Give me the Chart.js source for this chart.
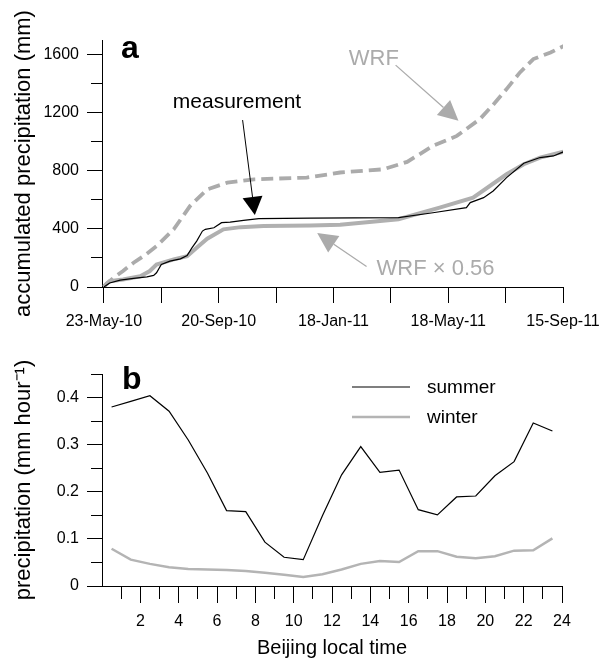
<!DOCTYPE html>
<html lang="en">
<head>
<meta charset="UTF-8" />
<title>Accumulated and diurnal precipitation</title>
<script src="https://cdn.jsdelivr.net/npm/chart.js"></script>
<style>
  body { margin: 0; background: #fff; }
  #wrap { position: relative; width: 612px; height: 660px; }
  canvas { position: absolute; left: 0; }
  #chartA { top: 0; }
  #chartB { top: 330px; }
</style>
</head>
<body>
<div id="wrap">
  <canvas id="chartA" width="612" height="330"></canvas>
  <canvas id="chartB" width="612" height="330"></canvas>
</div>

<script>
// ---- panel a: days since 23-May-10, accumulated mm ----
const measDays = [0, 6, 17, 31, 45, 52, 55, 60, 69, 80, 87, 92, 97, 103, 106, 115, 123, 132, 146, 162, 216, 308, 344, 379, 383, 397, 407, 421, 439, 456, 470, 481];
const measMm   = [0, 28, 47, 59, 70, 80, 98, 155, 178, 194, 217, 269, 316, 385, 397, 408, 443, 447, 459, 470, 474, 477, 511, 546, 581, 615, 661, 753, 852, 891, 902, 932];

const scaledDays = [0, 3, 6, 20, 38, 48, 55, 73, 87, 97, 108, 125, 143, 167, 216, 247, 308, 351, 386, 421, 439, 456, 481];
const scaledMm   = [0, 25, 40, 52, 74, 110, 155, 190, 212, 270, 332, 397, 412, 419, 423, 428, 466, 546, 615, 776, 845, 891, 932];

const wrfDays = [0, 10, 20, 31, 43, 55, 73, 90, 108, 129, 157, 212, 247, 292, 317, 344, 369, 393, 406, 421, 435, 449, 467, 481];
const wrfMm   = [5, 63, 110, 167, 220, 281, 397, 557, 672, 718, 741, 753, 788, 810, 861, 971, 1040, 1155, 1247, 1362, 1477, 1569, 1614, 1660];

const dayTicks = [0, 60, 120, 180, 240, 300, 360, 420, 480];
const dateLabels = { 0: '23-May-10', 120: '20-Sep-10', 240: '18-Jan-11', 360: '18-May-11', 480: '15-Sep-11' };
const mmTicks = [0, 200, 400, 600, 800, 1000, 1200, 1400, 1600];

// ---- panel b: Beijing local time (h), mm/hour ----
const hours  = [0.5, 1.5, 2.5, 3.5, 4.5, 5.5, 6.5, 7.5, 8.5, 9.5, 10.5, 11.5, 12.5, 13.5, 14.5, 15.5, 16.5, 17.5, 18.5, 19.5, 20.5, 21.5, 22.5, 23.5];
const summer = [0.380, 0.392, 0.404, 0.371, 0.310, 0.240, 0.160, 0.158, 0.093, 0.061, 0.056, 0.149, 0.236, 0.296, 0.241, 0.246, 0.162, 0.151, 0.189, 0.191, 0.234, 0.264, 0.346, 0.329];
const winter = [0.079, 0.056, 0.047, 0.040, 0.036, 0.035, 0.034, 0.032, 0.028, 0.024, 0.019, 0.025, 0.035, 0.047, 0.053, 0.051, 0.074, 0.074, 0.062, 0.059, 0.063, 0.075, 0.076, 0.101];

const hourTicks = [1, 2, 3, 4, 5, 6, 7, 8, 9, 10, 11, 12, 13, 14, 15, 16, 17, 18, 19, 20, 21, 22, 23, 24];
const rateTicks = [0, 0.05, 0.1, 0.15, 0.2, 0.25, 0.3, 0.35, 0.4, 0.45];
const rateLabels = ['0', '', '0.1', '', '0.2', '', '0.3', '', '0.4', ''];

const GREY = '#ababab';
const FONT = '"Liberation Sans", Arial, Helvetica, sans-serif';
Chart.defaults.font.family = FONT;
Chart.defaults.color = '#000';

function pts(xs, ys) { return xs.map((x, i) => ({ x: x, y: ys[i] })); }

function drawArrow(ctx, x0, y0, x1, y1, color, lw, headLen, headHalf) {
  const ang = Math.atan2(y1 - y0, x1 - x0);
  const bx = x1 - headLen * Math.cos(ang), by = y1 - headLen * Math.sin(ang);
  ctx.save();
  ctx.strokeStyle = color;
  ctx.fillStyle = color;
  ctx.lineWidth = lw;
  ctx.beginPath(); ctx.moveTo(x0, y0); ctx.lineTo(bx, by); ctx.stroke();
  ctx.beginPath();
  ctx.moveTo(x1, y1);
  ctx.lineTo(bx + headHalf * Math.sin(ang), by - headHalf * Math.cos(ang));
  ctx.lineTo(bx - headHalf * Math.sin(ang), by + headHalf * Math.cos(ang));
  ctx.closePath();
  ctx.fill();
  ctx.restore();
}

// text + arrows for panel a, placed in data units
const notesA = {
  id: 'notesA',
  afterDatasetsDraw(chart) {
    const { ctx, chartArea, scales: { x, y } } = chart;
    const px = d => x.getPixelForValue(d), py = v => y.getPixelForValue(v);
    ctx.save();
    ctx.textBaseline = 'alphabetic';
    ctx.textAlign = 'left';
    ctx.font = 'bold 32px ' + FONT;
    ctx.fillStyle = '#000';
    ctx.fillText('a', chartArea.left + 19, chartArea.top + 18);

    ctx.font = '21px ' + FONT;
    ctx.fillText('measurement', px(72), py(1231));
    drawArrow(ctx, px(145), py(1149), px(157.8), py(496), '#000', 1, 18, 10);

    ctx.fillStyle = GREY;
    ctx.font = '22px ' + FONT;
    ctx.fillText('WRF', px(256), py(1527));
    drawArrow(ctx, px(305), py(1527), px(370.7), py(1144), GREY, 1.3, 20, 10);

    ctx.fillText('WRF \u00d7 0.56', px(285), py(84));
    drawArrow(ctx, px(274.6), py(141.5), px(223), py(371), GREY, 1.3, 20, 10);
    ctx.restore();
  }
};

// panel label + legend for panel b
const notesB = {
  id: 'notesB',
  afterDatasetsDraw(chart) {
    const { ctx, chartArea } = chart;
    ctx.save();
    ctx.textAlign = 'left';
    ctx.textBaseline = 'alphabetic';
    ctx.font = 'bold 32px ' + FONT;
    ctx.fillStyle = '#000';
    ctx.fillText('b', chartArea.left + 20, chartArea.top + 15);

    ctx.font = '19px ' + FONT;
    ctx.textBaseline = 'middle';
    chart.data.datasets.forEach((ds, i) => {
      const yy = chartArea.top + 13 + i * 30;
      ctx.strokeStyle = ds.borderColor;
      ctx.lineWidth = ds.borderWidth;
      ctx.beginPath();
      ctx.moveTo(chartArea.left + 250, yy);
      ctx.lineTo(chartArea.left + 308, yy);
      ctx.stroke();
      ctx.fillStyle = '#000';
      ctx.fillText(ds.label, chartArea.left + 325, yy + 1);
    });
    ctx.restore();
  }
};

new Chart(document.getElementById('chartA'), {
  type: 'line',
  data: {
    datasets: [
      { label: 'measurement', data: pts(measDays, measMm), borderColor: '#000', borderWidth: 1.2 },
      { label: 'WRF x 0.56', data: pts(scaledDays, scaledMm), borderColor: '#b0b0b0', borderWidth: 4 },
      { label: 'WRF', data: pts(wrfDays, wrfMm), borderColor: GREY, borderWidth: 3.8, borderDash: [12, 6] }
    ]
  },
  options: {
    responsive: false,
    animation: false,
    devicePixelRatio: 1,
    elements: { point: { radius: 0 }, line: { tension: 0 } },
    layout: { padding: { top: 40, right: 49, left: 0, bottom: 0 } },
    plugins: { legend: { display: false }, tooltip: { enabled: false } },
    scales: {
      x: {
        type: 'linear', min: -2, max: 480,
        afterBuildTicks: s => { s.ticks = dayTicks.map(v => ({ value: v })); },
        afterFit: s => { s.height = 43; },
        ticks: { callback: v => dateLabels[v] || '', font: { size: 16 }, padding: 9, maxRotation: 0, autoSkip: false },
        grid: { drawOnChartArea: false, tickLength: 16, tickColor: '#000', tickWidth: 1 },
        border: { color: '#000', width: 1 }
      },
      y: {
        type: 'linear', min: 0, max: 1700,
        afterBuildTicks: s => { s.ticks = mmTicks.map(v => ({ value: v })); },
        afterFit: s => { s.width = 102; },
        ticks: { callback: v => (v % 400 === 0 ? String(v) : ''), font: { size: 16 }, padding: 8 },
        grid: {
          drawOnChartArea: false, tickLength: 15, tickColor: '#000', tickWidth: 1,
          tickBorderDash: c => (c.tick && c.tick.value % 400 !== 0 ? [0, 4, 11, 100] : [])
        },
        border: { color: '#000', width: 1 },
        title: { display: true, text: 'accumulated precipitation (mm)', font: { size: 22 }, padding: { top: 11, bottom: 0 } }
      }
    }
  },
  plugins: [notesA]
});

new Chart(document.getElementById('chartB'), {
  type: 'line',
  data: {
    datasets: [
      { label: 'summer', data: pts(hours, summer), borderColor: '#000', borderWidth: 1.2 },
      { label: 'winter', data: pts(hours, winter), borderColor: '#b4b4b4', borderWidth: 2.5 }
    ]
  },
  options: {
    responsive: false,
    animation: false,
    devicePixelRatio: 1,
    elements: { point: { radius: 0 }, line: { tension: 0 } },
    layout: { padding: { top: 44, right: 50, left: 0, bottom: 0 } },
    plugins: { legend: { display: false }, tooltip: { enabled: false } },
    scales: {
      x: {
        type: 'linear', min: 0, max: 24,
        afterBuildTicks: s => { s.ticks = hourTicks.map(v => ({ value: v })); },
        afterFit: s => { s.height = 74; },
        ticks: { callback: v => (v % 2 === 0 ? String(v) : ''), font: { size: 16 }, padding: 9, maxRotation: 0, autoSkip: false },
        grid: {
          drawOnChartArea: false, tickLength: 17, tickColor: '#000', tickWidth: 1,
          tickBorderDash: c => (c.tick && c.tick.value % 2 !== 0 ? [12, 100] : [])
        },
        border: { color: '#000', width: 1 },
        title: { display: true, text: 'Beijing local time', font: { size: 20 }, padding: { top: 0, bottom: 0 } }
      },
      y: {
        type: 'linear', min: 0, max: 0.45,
        afterBuildTicks: s => { s.ticks = rateTicks.map(v => ({ value: v })); },
        afterFit: s => { s.width = 102; },
        ticks: { callback: (v, i) => rateLabels[i], font: { size: 16 }, padding: 8 },
        grid: {
          drawOnChartArea: false, tickLength: 15, tickColor: '#000', tickWidth: 1,
          tickBorderDash: c => (c.index % 2 !== 0 ? [0, 4, 11, 100] : [])
        },
        border: { color: '#000', width: 1 },
        title: { display: true, text: 'precipitation (mm hour\u207b\u00b9)', font: { size: 22 }, padding: { top: 11, bottom: 0 } }
      }
    }
  },
  plugins: [notesB]
});
</script>
</body>
</html>
